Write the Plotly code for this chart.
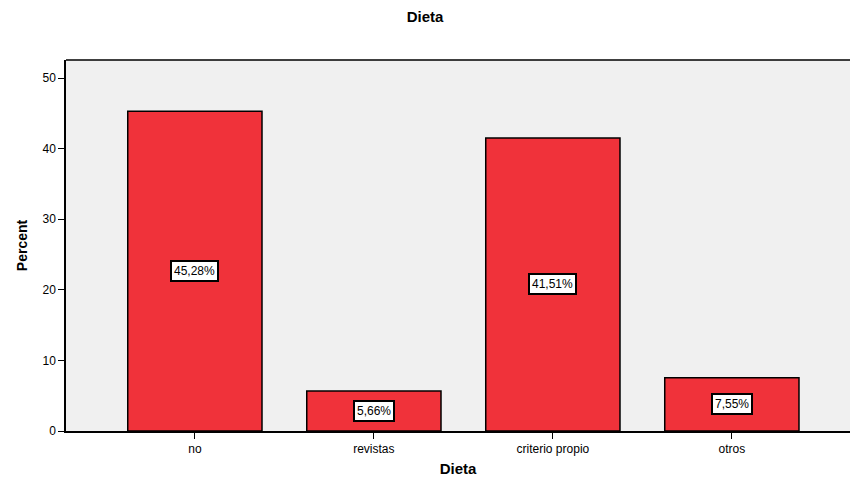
import plotly.graph_objects as go

categories = ["no", "revistas", "criterio propio", "otros"]
percents = [45.28, 5.66, 41.51, 7.55]
labels = ["45,28%", "5,66%", "41,51%", "7,55%"]
y_ticks = [0, 10, 20, 30, 40, 50]

font_family = "Liberation Sans, Arial, sans-serif"

fig = go.Figure()
fig.add_trace(go.Bar(
    x=categories,
    y=percents,
    width=0.75,
    marker=dict(color="#F0323A", line=dict(color="black", width=1.5)),
    hoverinfo="skip",
))

# value labels: boxed text at half the bar height
for cat, val, lab in zip(categories, percents, labels):
    fig.add_annotation(
        x=cat, y=val / 2, text=lab, showarrow=False,
        font=dict(family=font_family, size=12, color="black"),
        bgcolor="white", bordercolor="black", borderwidth=2, borderpad=2,
    )

# top frame line of the plot area
fig.add_shape(type="line", xref="paper", yref="paper", x0=0, x1=1, y0=1, y1=1,
              line=dict(color="black", width=1.5))

fig.update_layout(
    width=850, height=483,
    margin=dict(l=66, r=0, t=60, b=52),
    paper_bgcolor="white",
    plot_bgcolor="#F0F0F0",
    showlegend=False,
    title=dict(text="<b>Dieta</b>", x=0.5, xanchor="center", y=0.965, yanchor="middle",
               font=dict(family=font_family, size=15, color="black")),
    xaxis=dict(
        range=[-0.72, 3.66],
        showline=True, linecolor="black", linewidth=1.5,
        ticks="outside", ticklen=6, tickcolor="black", tickwidth=1,
        tickfont=dict(family=font_family, size=12, color="black"),
        title=dict(text="<b>Dieta</b>", standoff=8,
                   font=dict(family=font_family, size=15, color="black")),
        showgrid=False, zeroline=False,
    ),
    yaxis=dict(
        range=[0, 52.55],
        tickvals=y_ticks,
        showline=True, linecolor="black", linewidth=1.5,
        ticks="outside", ticklen=6, tickcolor="black", tickwidth=1,
        tickfont=dict(family=font_family, size=12, color="black"),
        title=dict(text="<b>Percent</b>", standoff=12,
                   font=dict(family=font_family, size=14, color="black")),
        showgrid=False, zeroline=False,
    ),
)

fig.write_html("out.html")
